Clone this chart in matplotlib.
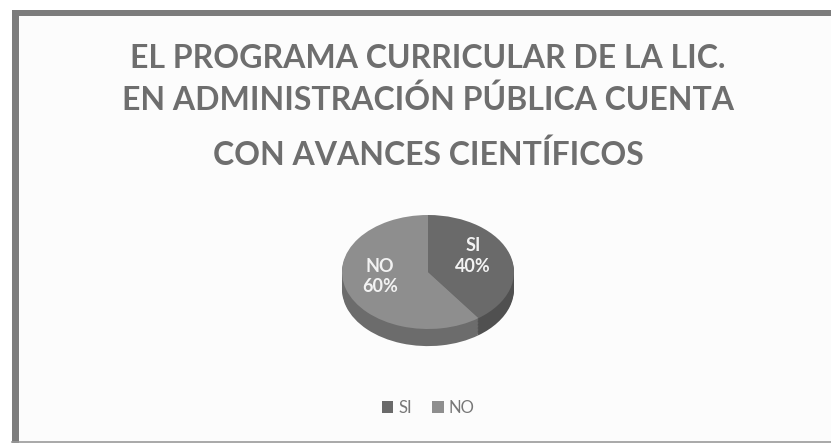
import matplotlib
matplotlib.use("Agg")
import matplotlib.pyplot as plt
from matplotlib.patches import Rectangle

# datos de la grafica
categorias = ["SI", "NO"]
porcentajes = [40, 60]
titulo = ["EL PROGRAMA CURRICULAR DE LA LIC.",
          "EN ADMINISTRACIÓN PÚBLICA CUENTA",
          "CON AVANCES CIENTÍFICOS"]

col_top = ["#6a6a6a", "#8e8e8e"]
col_side = ["#505050", "#6c6c6c"]
W, H = 831, 444

plt.rcParams['font.family'] = ['Lato', 'DejaVu Sans']
fig = plt.figure(figsize=(W / 100, H / 100), dpi=100)
fig.patch.set_facecolor("white")

# fondo y marco en pixeles
bg = fig.add_axes([0, 0, 1, 1])
bg.set_xlim(0, W)
bg.set_ylim(H, 0)
bg.axis("off")
bg.add_patch(Rectangle((15, 12), W, 430, facecolor="#fcfcfc", edgecolor="none"))
bg.add_patch(Rectangle((12, 10), 7, 433, facecolor="#7c7c7c", edgecolor="none"))
bg.add_patch(Rectangle((12, 10), W, 6, facecolor="#7c7c7c", edgecolor="none"))
bg.plot([12, W], [442, 442], color="#9a9a9a", lw=1.2)

ys = [58, 100, 155]
for t, y in zip(titulo, ys):
    bg.text(428, y, t, ha="center", va="center", fontsize=23, fontweight="bold",
            color="#6e6e6e")

# pastel con perspectiva (elipse + lateral)
depth = 0.3
rx, ry = 86, 57
cx, cy_top = 428, 215
h_px = ry * (2 + depth)
ax = fig.add_axes([(cx - rx) / W, (H - cy_top - h_px) / H, 2 * rx / W, h_px / H])
n = 12
for i in range(n, 0, -1):
    off = -depth * i / n
    ax.pie(porcentajes, colors=col_side, startangle=90, counterclock=False,
           center=(0, off), radius=1, wedgeprops=dict(linewidth=0))
wedges, _ = ax.pie(porcentajes, colors=col_top, startangle=90, counterclock=False,
                   radius=1, wedgeprops=dict(linewidth=0))
ax.set_aspect("auto")
ax.set_xlim(-1, 1)
ax.set_ylim(-1 - depth, 1)
ax.axis("off")

etq_pos = [(0.52, 0.28), (-0.56, -0.08)]
for c, p, (x, y) in zip(categorias, porcentajes, etq_pos):
    ax.text(x, y, f"{c}\n{p}%", ha="center", va="center", fontsize=13,
            fontweight="bold", color="#f2f2f2", linespacing=1.25)

fig.legend(wedges, categorias, loc="center", bbox_to_anchor=(428 / W, 1 - 408 / H),
           ncol=2, frameon=False, fontsize=12, labelcolor="#777777",
           handlelength=0.7, handleheight=0.7, handletextpad=0.3, columnspacing=1.2)

fig.savefig("out.png", dpi=100)
